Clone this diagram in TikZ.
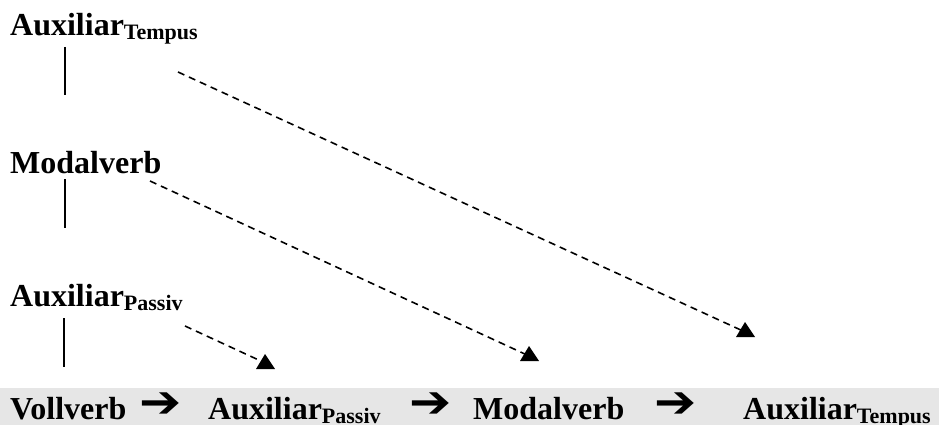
\documentclass[tikz,border=0pt]{standalone}
\usepackage{fontspec}
\setmainfont{Liberation Serif}
\newfontfamily\arrowfont{DejaVu Sans}
\definecolor{bandgray}{RGB}{230,230,230}
\newcommand{\bigtxt}{\fontsize{32}{38}\selectfont\bfseries}
\newcommand{\subtxt}[1]{\raisebox{-4pt}{\fontsize{22}{26}\selectfont\bfseries #1}}
\newcommand{\heavyarrow}{\scalebox{1.8}[1.6]{➔}}
\tikzset{
  lbl/.style={anchor=base west, inner sep=0pt, font=\bigtxt},
  arr/.style={anchor=base west, inner sep=0pt, font=\arrowfont\bfseries\fontsize{28}{32}\selectfont},
  vline/.style={line width=1.6pt},
  dline/.style={line width=1.6pt, dash pattern=on 7pt off 5pt},
  headtri/.style={fill=black}
}
\begin{document}
\begin{tikzpicture}[x=1pt,y=-1pt]
\useasboundingbox (0,0) rectangle (939,425);
\fill[bandgray] (0,388) rectangle (939,425);

% left column
\node[lbl] (tT) at (10,36) {Auxiliar\subtxt{Tempus}};
\node[lbl] (tM) at (10,173) {Modalverb};
\node[lbl] (tP) at (10,306) {Auxiliar\subtxt{Passiv}};

\coordinate (v1a) at (65,47);  \coordinate (v1b) at (65,95);
\coordinate (v2a) at (65,179); \coordinate (v2b) at (65,228);
\coordinate (v3a) at (64,318); \coordinate (v3b) at (64,367);
\draw[vline] (v1a) -- (v1b);
\draw[vline] (v2a) -- (v2b);
\draw[vline] (v3a) -- (v3b);

% bottom row
\node[lbl] (bV) at (10,419) {Vollverb};
\node[arr] (a1) at (139,417) {\heavyarrow};
\node[lbl] (bP) at (208,419) {Auxiliar\subtxt{Passiv}};
\node[arr] (a2) at (409,417) {\heavyarrow};
\node[lbl] (bM) at (473,419) {Modalverb};
\node[arr] (a3) at (654,417) {\heavyarrow};
\node[lbl] (bT) at (743,419) {Auxiliar\subtxt{Tempus}};

% dashed arrows
\coordinate (s1) at (178,72);  \coordinate (e1) at (743,331); \coordinate (h1) at (745,322);
\coordinate (s2) at (150,181); \coordinate (e2) at (527,355); \coordinate (h2) at (529,346);
\coordinate (s3) at (185,326); \coordinate (e3) at (263,362); \coordinate (h3) at (265,354);
\draw[dline] (s1) -- (e1);
\draw[dline] (s2) -- (e2);
\draw[dline] (s3) -- (e3);
\fill[headtri] (h1) -- ++(-9,15) -- ++(19,0) -- cycle;
\fill[headtri] (h2) -- ++(-9,15) -- ++(19,0) -- cycle;
\fill[headtri] (h3) -- ++(-9,15) -- ++(19,0) -- cycle;
\end{tikzpicture}
\end{document}
